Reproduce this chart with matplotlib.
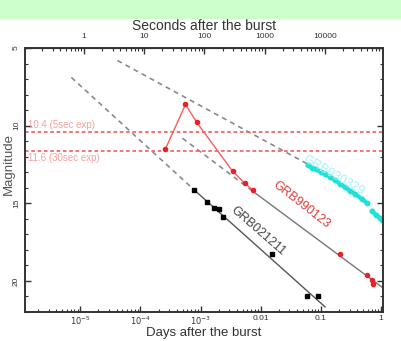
import numpy as np
import matplotlib.pyplot as plt
from matplotlib.patches import Rectangle
from matplotlib.ticker import LogLocator, NullFormatter, MultipleLocator

plt.rcParams['font.family'] = ['Liberation Sans', 'DejaVu Sans']

# GRB990123 (red points)
t_990123 = [2.6e-4, 5.6e-4, 8.6e-4, 3.4e-3, 5.4e-3, 7.4e-3, 0.207, 0.58, 0.71, 0.74]
m_990123 = [11.5, 8.63, 9.78, 12.93, 13.7, 14.15, 18.26, 19.6, 19.93, 20.2]

# GRB021211 (black squares)
t_021211 = [7.9e-4, 1.3e-3, 1.65e-3, 2.0e-3, 2.4e-3, 0.0152, 0.059, 0.089]
m_021211 = [14.17, 14.94, 15.32, 15.38, 15.9, 18.27, 21.0, 21.0]

# GRB030329 (cyan, two runs)
t_030329_a = [0.0607, 0.0708, 0.0826, 0.1, 0.117, 0.141, 0.171, 0.207, 0.251, 0.304, 0.369, 0.482, 0.585]
m_030329_a = [12.55, 12.7, 12.8, 13.0, 13.12, 13.3, 13.5, 13.73, 13.96, 14.18, 14.4, 14.73, 14.99]
t_030329_b = [0.708, 0.826, 0.962, 1.05]
m_030329_b = [15.5, 15.76, 15.95, 16.1]

# power-law decay lines: dashed part, solid part
fitA_t = [4.14e-5, 0.0656]
fitA_m = [5.80, 12.55]
fitB_dash_t = [5.0e-4, 7.36e-3]
fitB_dash_m = [10.81, 14.22]
fitB_t = [7.36e-3, 1.08]
fitB_m = [14.22, 20.45]
fitC_dash_t = [7.1e-6, 7.9e-4]
fitC_dash_m = [6.89, 14.15]
fitC_t = [7.9e-4, 0.117]
fitC_m = [14.15, 21.67]

# detection limits
limits = [10.4, 11.6]
limit_labels = ['10.4 (5sec exp)', '11.6 (30sec exp)']

fig = plt.figure(figsize=(4.02, 3.41), dpi=100)
fig.patches.append(Rectangle((0, 0.946), 1, 0.054, transform=fig.transFigure,
                             color='#ccffcc', zorder=0))
ax = fig.add_axes([0.062, 0.085, 0.891, 0.774])

grey = '#8a8a8a'
ax.plot(fitA_t, fitA_m, ls=(0, (3, 2.5)), color=grey, lw=1.2)
ax.plot(fitB_dash_t, fitB_dash_m, ls=(0, (3, 2.5)), color=grey, lw=1.2)
ax.plot(fitB_t, fitB_m, color='#777777', lw=1.0)
ax.plot(fitC_dash_t, fitC_dash_m, ls=(0, (3, 2.5)), color=grey, lw=1.2)
ax.plot(fitC_t, fitC_m, color='#555555', lw=1.0)

for m in limits:
    ax.axhline(m, color='#f06a6a', ls=(0, (2, 1.5)), lw=1.3)
ax.text(1.35e-6, limits[0] - 0.15, limit_labels[0], color='#f4a0a0', fontsize=7, va='bottom')
ax.text(1.35e-6, limits[1] + 0.15, limit_labels[1], color='#f4a0a0', fontsize=7, va='top')

ax.plot(t_990123[:6], m_990123[:6], color='#ff5a5a', lw=1.0)
ax.plot(t_990123, m_990123, 'o', color='#e8202a', ms=3, ls='none')

ax.plot(t_021211, m_021211, 's', color='black', ms=3.2, ls='none')

cyan = '#22e0d8'
ax.plot(t_030329_a, m_030329_a, 'o', color=cyan, ms=3.2, lw=3, ls='-')
ax.plot(t_030329_b, m_030329_b, 'o', color=cyan, ms=3.2, lw=3, ls='-')

ax.text(0.16, 13.2, 'GRB030329', color='#a8f0f4', fontsize=9, rotation=-30,
        ha='center', va='center')
ax.text(0.047, 15.1, 'GRB990123', color='#e03a3a', fontsize=9, rotation=-38,
        ha='center', va='center')
ax.text(0.009, 16.8, 'GRB021211', color='#444444', fontsize=9, rotation=-41,
        ha='center', va='center')

ax.set_xscale('log')
ax.set_xlim(1.2e-6, 1.08)
ax.set_ylim(22, 5)
ax.set_xticks([1e-5, 1e-4, 1e-3, 0.01, 0.1, 1])
ax.set_xticklabels(['$10^{-5}$', '$10^{-4}$', '$10^{-3}$', '0.01', '0.1', '1'])
ax.xaxis.set_minor_locator(LogLocator(base=10, subs=np.arange(2, 10)))
ax.xaxis.set_minor_formatter(NullFormatter())
ax.set_yticks([5, 10, 15, 20])
ax.yaxis.set_minor_locator(MultipleLocator(1))
for lab in ax.get_yticklabels():
    lab.set_rotation(90)
    lab.set_va('center')
ax.tick_params(which='both', direction='in', top=False, right=True, labelsize=6,
               colors='#333333')
ax.tick_params(axis='x', pad=2)
ax.tick_params(which='major', length=4, width=1)
ax.tick_params(which='minor', length=2.5, width=0.8)
for s in ax.spines.values():
    s.set_linewidth(1.4)
    s.set_color('#333333')
ax.set_xlabel('Days after the burst', fontsize=9.5, color='#333333', labelpad=0)
ax.set_ylabel('Magnitude', fontsize=9.5, color='#555555')
ax.yaxis.set_label_coords(-0.028, 0.56)

top = ax.secondary_xaxis('top', functions=(lambda d: d * 86400.0, lambda s: s / 86400.0))
top.set_xticks([1, 10, 100, 1000, 10000])
top.set_xticklabels(['1', '10', '100', '1000', '10000'])
top.xaxis.set_minor_locator(LogLocator(base=10, subs=np.arange(2, 10)))
top.xaxis.set_minor_formatter(NullFormatter())
top.tick_params(which='both', direction='in', labelsize=6, colors='#333333', pad=6)
top.tick_params(which='major', length=4, width=1)
top.tick_params(which='minor', length=2.5, width=0.8)
top.set_xlabel('Seconds after the burst', fontsize=10, color='#333333', labelpad=2)

fig.savefig('out.png', dpi=100)
